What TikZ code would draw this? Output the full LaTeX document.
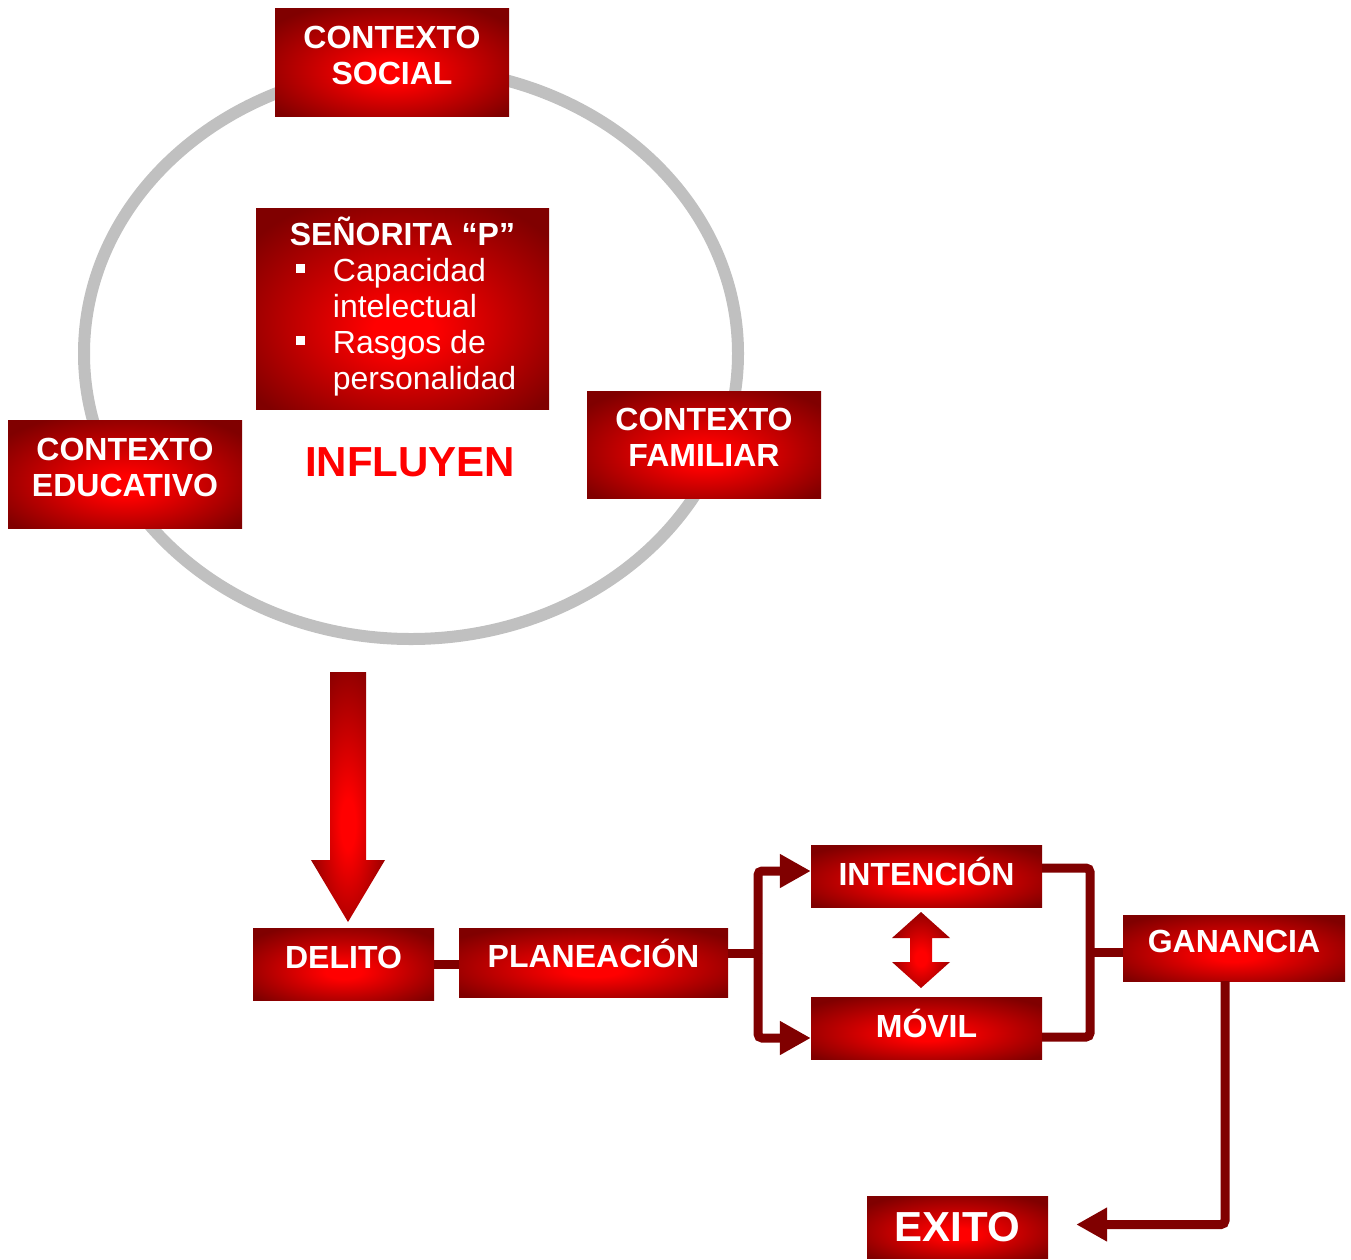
\documentclass[tikz,border=0pt]{standalone}
\usepackage{fontspec}
\setmainfont{Liberation Sans}
\usetikzlibrary{arrows.meta}
\definecolor{boxdark}{RGB}{128,0,0}
\definecolor{boxred}{RGB}{255,0,0}
\definecolor{ringgray}{RGB}{192,192,192}
\pgfdeclareradialshading{glow}{\pgfpoint{0bp}{-6bp}}{color(0bp)=(boxred); color(5bp)=(boxred); color(32bp)=(boxdark); color(50bp)=(boxdark)}
\newcommand{\sqbul}{\rule[8pt]{9pt}{9pt}}
\begin{document}
\begin{tikzpicture}[x=1pt,y=-1pt]
	\tikzstyle{Box} = [rectangle, shading=glow, inner sep=0pt, text=white, align=center, font=\fontsize{32}{36}\selectfont\bfseries]
	\tikzstyle{Cap} = [text height=23pt, text depth=14pt]
	\tikzstyle{Link} = [draw=boxdark, line width=9pt, rounded corners=4pt]
	\tikzstyle{Head} = [-{Triangle[length=31pt,width=32pt]}]
	\useasboundingbox (0,0) rectangle (1351,1259);
	\draw [ringgray, line width=12pt] (411,353.5) ellipse [x radius=327, y radius=285.5];
	% upper part
	\node (social) at (392,62) [Box, text depth=14pt, minimum width=234pt, minimum height=108pt] {CONTEXTO\\SOCIAL};
	\node (senorita) at (402.5,308.5) [Box, minimum width=293pt, minimum height=201pt, font=\fontsize{32}{36}\selectfont] {\begin{tabular}{@{\hspace{12pt}}l@{\hspace{28pt}}l@{}}
		\multicolumn{2}{c}{\bfseries SEÑORITA “P”}\\
		\sqbul & Capacidad\\
		& intelectual\\
		\sqbul & Rasgos de\\
		& personalidad
	\end{tabular}};
	\node (educ) at (125,474) [Box, text depth=14pt, minimum width=234pt, minimum height=108pt] {CONTEXTO\\EDUCATIVO};
	\node (famil) at (704,444.5) [Box, text depth=14pt, minimum width=234pt, minimum height=107pt] {CONTEXTO\\FAMILIAR};
	\node (influyen) at (410,462.5) [text=boxred, font=\fontsize{42}{48}\selectfont\bfseries] {INFLUYEN};
	\shade [shading=glow] (330,672) -- (366,672) -- (366,860) -- (385,860) -- (348,922) -- (311,860) -- (330,860) -- cycle;
	% lower part
	\node (delito) at (343.5,964) [Box, Cap, minimum width=181pt, minimum height=72pt] {DELITO};
	\node (planea) at (593.5,962.5) [Box, Cap, minimum width=269pt, minimum height=69pt] {PLANEACIÓN};
	\node (intenc) at (926.5,876) [Box, Cap, text depth=4pt, minimum width=231pt, minimum height=62pt] {INTENCIÓN};
	\node (movil) at (926.5,1028) [Box, Cap, text depth=4pt, minimum width=231pt, minimum height=62pt] {MÓVIL};
	\node (ganan) at (1234,948) [Box, Cap, minimum width=222pt, minimum height=66pt] {GANANCIA};
	\node (exito) at (957.5,1227.5) [Box, minimum width=181pt, minimum height=62pt, font=\fontsize{42}{48}\selectfont\bfseries] {EXITO};
	\shade [shading=glow] (921,912) -- (950,938) -- (932,938) -- (932,962) -- (950,962) -- (921,988) -- (892,962) -- (910,962) -- (910,938) -- (892,938) -- cycle;
	\coordinate (fork) at (758,953);
	\coordinate (merge) at (1090,952);
	\draw [Link] (delito.east) to (delito.east -| planea.west);
	\draw [Link] (planea.east |- fork) to (fork);
	\draw [Link, Head] (fork) |- ([yshift=5pt]intenc.west);
	\draw [Link, Head] (fork) |- ([yshift=-10pt]movil.west);
	\draw [Link] ([yshift=8pt]intenc.east) -| (merge) |- ([yshift=-9pt]movil.east);
	\draw [Link] (merge) to (merge -| ganan.west);
	\draw [Link, Head] ([xshift=-9pt]ganan.south) |- ([xshift=28pt,yshift=3pt]exito.east);
\end{tikzpicture}
\end{document}
